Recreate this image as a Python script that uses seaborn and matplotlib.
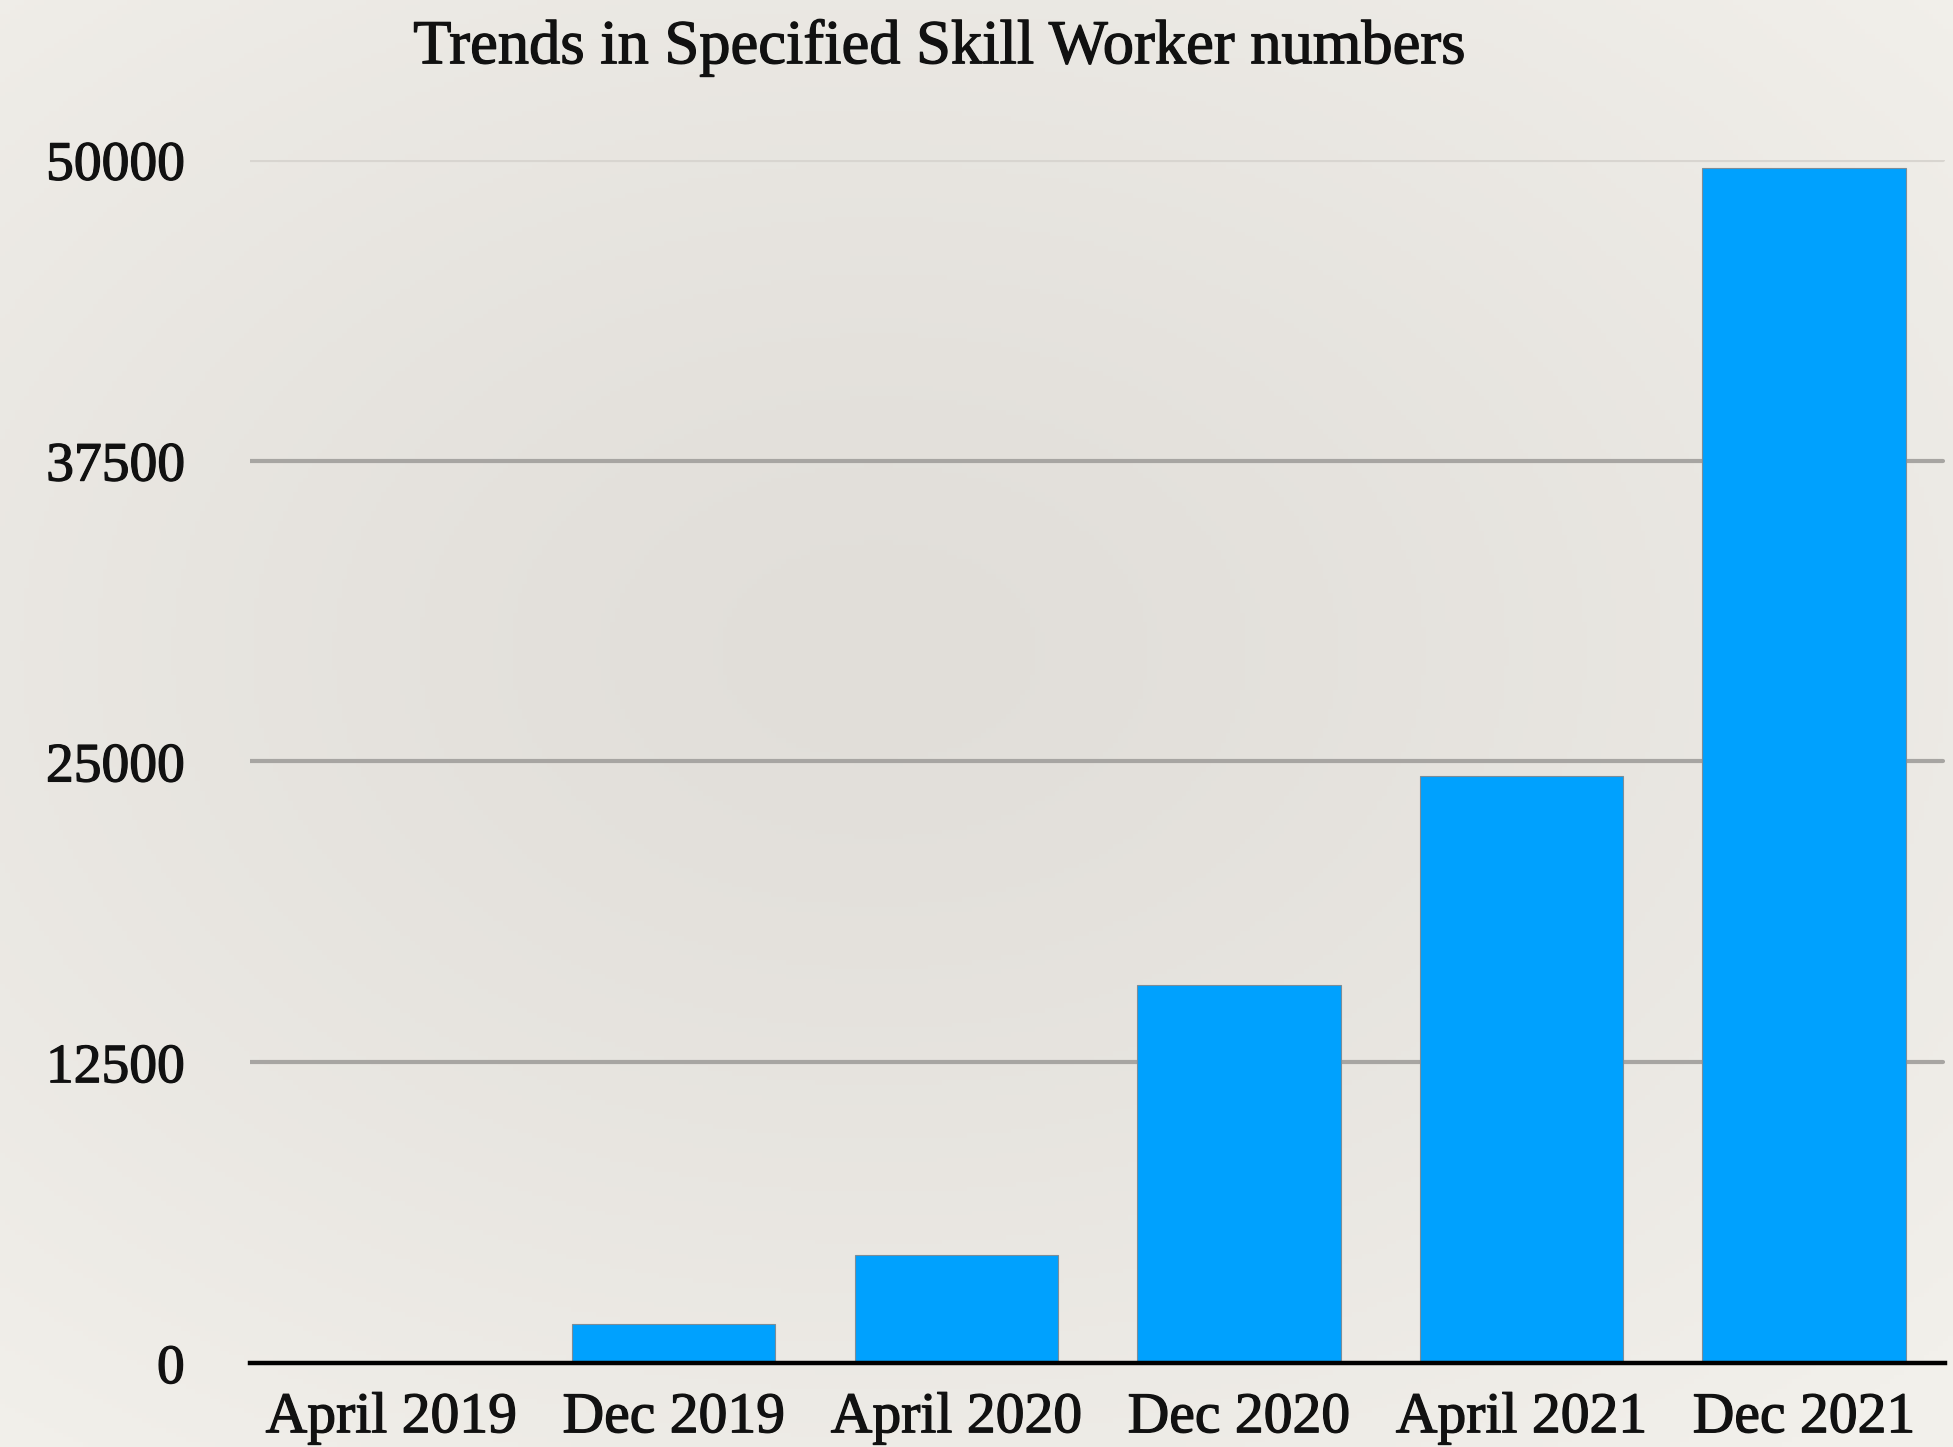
import numpy as np
import matplotlib
matplotlib.use("Agg")
import matplotlib.pyplot as plt
import matplotlib.patheffects as pe
import seaborn as sns

# Data
periods = ["April 2019", "Dec 2019", "April 2020", "Dec 2020", "April 2021", "Dec 2021"]
workers = [0, 1621, 4490, 15700, 24400, 49666]
y_ticks = [0, 12500, 25000, 37500, 50000]

sns.set_theme(style="white")
plt.rcParams["font.family"] = ["Liberation Serif", "DejaVu Serif"]

fig = plt.figure(figsize=(19.53, 14.47), dpi=100)

# Paper-like background: soft radial shading
bg = fig.add_axes([0, 0, 1, 1], zorder=-10)
yy, xx = np.mgrid[0:1:300j, 0:1:400j]
r = np.sqrt(((xx - 0.45) / 0.75) ** 2 + ((yy - 0.45) / 0.7) ** 2)
r = np.clip(r, 0, 1)
c_in = np.array([0xe1, 0xde, 0xd9]) / 255
c_out = np.array([0xf2, 0xf0, 0xeb]) / 255
img = c_in[None, None, :] + (c_out - c_in)[None, None, :] * (r[..., None] ** 1.3)
bg.imshow(img, aspect="auto", extent=[0, 1, 0, 1], origin="upper")
bg.set_axis_off()

ax = fig.add_axes([0.128, 0.058, 0.868, 0.8316])
ax.patch.set_alpha(0)

sns.barplot(x=periods, y=workers, color="#00a1fe", width=0.72, saturation=1,
            edgecolor="#7b8d99", linewidth=0.8, ax=ax, zorder=3)

ax.set_ylim(0, 50000)
ax.set_xlim(-0.5, 5.5)
ax.set_yticks(y_ticks)
ax.set_yticklabels([str(t) for t in y_ticks])

# Horizontal gridlines behind the bars
for t in y_ticks[1:]:
    col = "#d8d5d0" if t == 50000 else "#a7a5a2"
    ax.axhline(t, color=col, linewidth=3.0, zorder=1, xmax=0.999)

for s in ["top", "right", "left"]:
    ax.spines[s].set_visible(False)
ax.spines["bottom"].set_color("black")
ax.spines["bottom"].set_linewidth(3.2)
ax.spines["bottom"].set_zorder(4)

ax.tick_params(axis="y", length=0, pad=47, labelsize=40, labelcolor="#111111")
ax.tick_params(axis="x", length=0, pad=21, labelsize=41.5, labelcolor="#111111")
ax.set_xlabel("")
ax.set_ylabel("")
stroke = [pe.withStroke(linewidth=0.9, foreground="#111111")]
for lab in ax.get_yticklabels():
    lab.set_horizontalalignment("right")
    lab.set_path_effects(stroke)
for lab in ax.get_xticklabels():
    lab.set_path_effects(stroke)

fig.text(0.481, 0.967, "Trends in Specified Skill Worker numbers", ha="center", va="center",
         fontsize=45, color="#111111", path_effects=stroke)

fig.savefig("out.png", dpi=100)
